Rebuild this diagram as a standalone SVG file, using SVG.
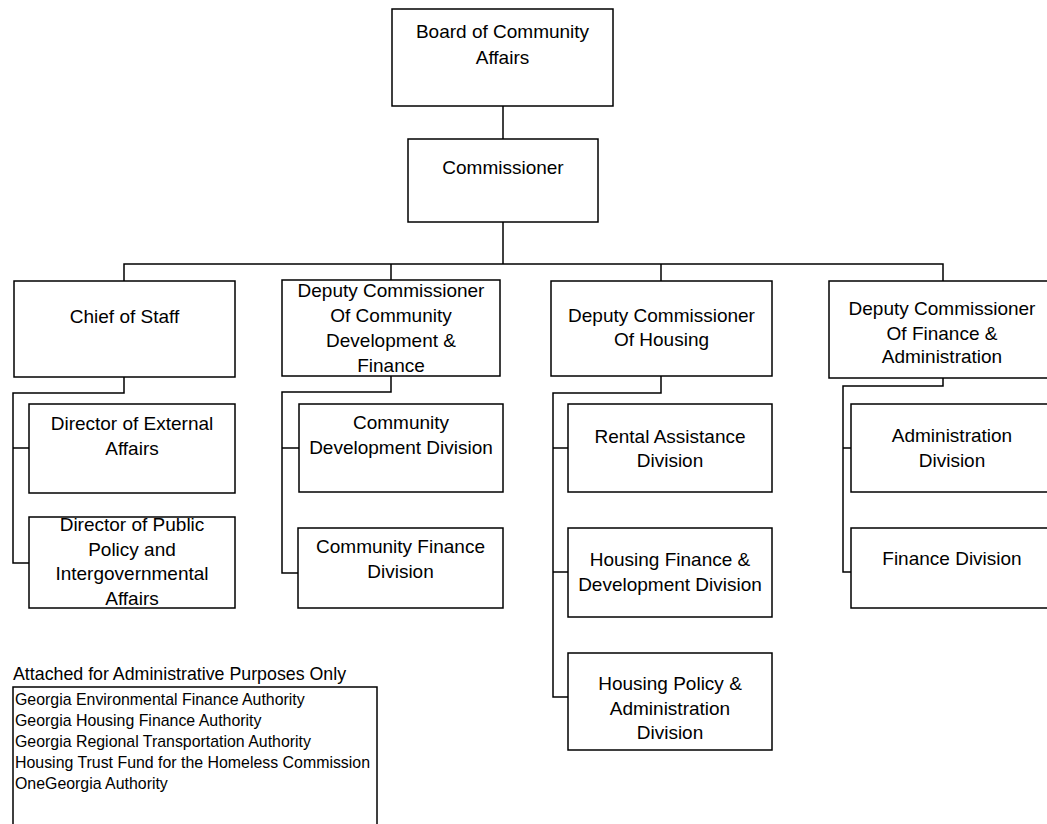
<svg xmlns="http://www.w3.org/2000/svg" width="1047" height="824" viewBox="0 0 1047 824">
<style>
rect.box{fill:#fff;stroke:#000;stroke-width:1.5}
.conn path{fill:none;stroke:#000;stroke-width:1.5}
text{font-family:"Liberation Sans",Arial,sans-serif;font-size:19px;fill:#000;text-anchor:middle}
text.l{text-anchor:start;font-size:15.9px}
text.h{text-anchor:start;font-size:17.8px}
</style>
<rect width="1047" height="824" fill="#fff"/>
<g class="conn">
<path d="M503 106V139"/>
<path d="M503 222V264"/>
<path d="M124 281V264H943V281"/>
<path d="M391 264V280"/>
<path d="M661 264V281"/>
<path d="M124 377V393H13V563H29"/>
<path d="M13 448H29"/>
<path d="M391 376V392H282V573H298"/>
<path d="M282 448H299"/>
<path d="M661 376V393H553V697H568"/>
<path d="M553 448H568"/>
<path d="M553 572H568"/>
<path d="M943 378V386H843V572H851"/>
<path d="M843 448H851"/>
</g>
<g id="board"><rect class="box" x="392" y="9" width="221" height="97"/><text x="502.5" y="38">Board of Community</text><text x="502.5" y="64">Affairs</text></g>
<g id="commissioner"><rect class="box" x="408" y="139" width="190" height="83"/><text x="503" y="174">Commissioner</text></g>
<g id="chief"><rect class="box" x="14" y="281" width="221" height="96"/><text x="124.5" y="323">Chief of Staff</text></g>
<g id="dir-external"><rect class="box" x="29" y="404" width="206" height="89"/><text x="132" y="430">Director of External</text><text x="132" y="455">Affairs</text></g>
<g id="dir-public"><rect class="box" x="29" y="517" width="206" height="91"/><text x="132" y="531">Director of Public</text><text x="132" y="556">Policy and</text><text x="132" y="580">Intergovernmental</text><text x="132" y="605">Affairs</text></g>
<g id="dep-cdf"><rect class="box" x="282" y="280" width="218" height="96"/><text x="391" y="297">Deputy Commissioner</text><text x="391" y="322">Of Community</text><text x="391" y="347">Development &amp;</text><text x="391" y="372">Finance</text></g>
<g id="cdd"><rect class="box" x="299" y="404" width="204" height="88"/><text x="401" y="429">Community</text><text x="401" y="454">Development Division</text></g>
<g id="cfd"><rect class="box" x="298" y="528" width="205" height="80"/><text x="400.5" y="553">Community Finance</text><text x="400.5" y="578">Division</text></g>
<g id="dep-housing"><rect class="box" x="551" y="281" width="221" height="95"/><text x="661.5" y="322">Deputy Commissioner</text><text x="661.5" y="346">Of Housing</text></g>
<g id="rental"><rect class="box" x="568" y="404" width="204" height="88"/><text x="670" y="443">Rental Assistance</text><text x="670" y="467">Division</text></g>
<g id="hfd"><rect class="box" x="568" y="528" width="204" height="89"/><text x="670" y="566">Housing Finance &amp;</text><text x="670" y="591">Development Division</text></g>
<g id="hpa"><rect class="box" x="568" y="653" width="204" height="97"/><text x="670" y="690">Housing Policy &amp;</text><text x="670" y="715">Administration</text><text x="670" y="739">Division</text></g>
<g id="dep-fa"><rect class="box" x="829" y="281" width="226" height="97"/><text x="942" y="315">Deputy Commissioner</text><text x="942" y="340">Of Finance &amp;</text><text x="942" y="363">Administration</text></g>
<g id="admin-div"><rect class="box" x="851" y="404" width="202" height="88"/><text x="952" y="442">Administration</text><text x="952" y="467">Division</text></g>
<g id="fin-div"><rect class="box" x="851" y="528" width="202" height="80"/><text x="952" y="565">Finance Division</text></g>
<g id="attached">
<text class="h" x="13" y="680">Attached for Administrative Purposes Only</text>
<rect class="box" x="13" y="687" width="364" height="150"/>
<text class="l" x="15" y="705">Georgia Environmental Finance Authority</text>
<text class="l" x="15" y="726">Georgia Housing Finance Authority</text>
<text class="l" x="15" y="747">Georgia Regional Transportation Authority</text>
<text class="l" x="15" y="768">Housing Trust Fund for the Homeless Commission</text>
<text class="l" x="15" y="789">OneGeorgia Authority</text>
</g>
</svg>
